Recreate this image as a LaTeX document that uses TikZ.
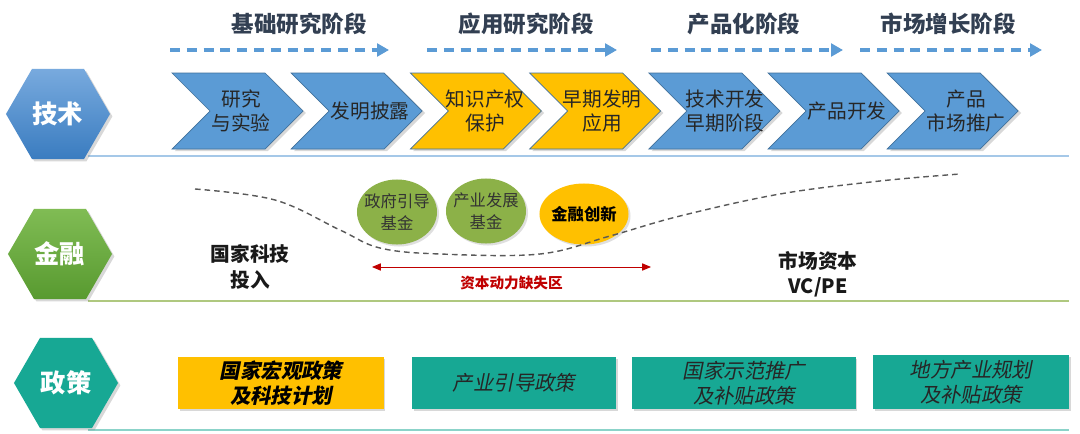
\documentclass[tikz,border=0pt]{standalone}
\usepackage{fontspec}
\setmainfont{Noto Sans CJK SC}
\newfontfamily\slantfont{Noto Sans CJK SC}[FakeSlant=0.2]
\usepackage{tikz}
\usetikzlibrary{shapes.geometric, arrows.meta, shadows, positioning}
\definecolor{techblue}{RGB}{91,155,213}
\definecolor{techedge}{RGB}{65,113,156}
\definecolor{hexbluetop}{RGB}{120,170,222}
\definecolor{hexbluebot}{RGB}{58,124,192}
\definecolor{keyyellow}{RGB}{255,192,0}
\definecolor{keyedge}{RGB}{190,142,0}
\definecolor{hexgreentop}{RGB}{128,188,84}
\definecolor{hexgreenbot}{RGB}{88,154,48}
\definecolor{fundgreen}{RGB}{140,177,72}
\definecolor{polteal}{RGB}{23,168,148}
\definecolor{headnavy}{RGB}{50,63,82}
\definecolor{gapred}{RGB}{192,0,0}
\tikzset{
  %% ---- row badges ----
  hexa/.style     = {regular polygon, regular polygon sides=6,
                     minimum size=2.6cm, inner sep=0pt,
                     font=\fontsize{18}{20}\selectfont\bfseries, text=white,
                     drop shadow={opacity=.3, shadow xshift=.06cm, shadow yshift=-.06cm}},
  %% ---- stage chevrons ----
  chevshape/.style = {draw=techedge, line width=.5pt, fill=#1,
                      drop shadow={opacity=.3, shadow xshift=.07cm, shadow yshift=-.05cm}},
  chevshape/.default = techblue,
  chevtext/.style = {align=center, font=\fontsize{14}{17}\selectfont, text=black!85},
  stagehead/.style= {font=\fontsize{16}{18}\selectfont\bfseries, text=headnavy},
  %% ---- funding ----
  fund/.style     = {ellipse, inner xsep=-6pt, inner ysep=-2pt, fill=#1,
                     minimum width=2cm, minimum height=1.625cm,
                     align=center, font=\fontsize{11.6}{15}\selectfont, text=black!80,
                     drop shadow={opacity=.25, shadow xshift=.05cm, shadow yshift=-.05cm}},
  fund/.default   = fundgreen,
  srclbl/.style   = {align=center, font=\fontsize{14}{18}\selectfont\bfseries, text=black!90},
  %% ---- policy ----
  polbox/.style   = {rectangle, inner sep=0pt, fill=#1, minimum height=1.3cm,
                     align=center, font=\slantfont\fontsize{14.5}{18}\selectfont, text=black!85,
                     drop shadow={opacity=.3, shadow xshift=.04cm, shadow yshift=-.06cm}},
  polbox/.default = polteal,
  %% ---- lines ----
  stagearrow/.style = {-{Triangle[length=.3cm, width=.32cm]}, draw=techblue,
                       line width=.1cm, dash pattern=on .25cm off .17cm},
  gaparrow/.style   = {{Triangle[length=.22cm, width=.18cm]}-{Triangle[length=.22cm, width=.18cm]},
                       draw=gapred, line width=.6pt},
  rowline/.style    = {line width=1pt, draw=#1},
}

\begin{document}
\begin{tikzpicture}[x=0.025cm, y=-0.025cm]
\path[fill=white, use as bounding box] (0,0) rectangle (1080,434);

% stage headers and their arrows
\node[stagehead] (hbasic)  at (299,24) {基础研究阶段};
\node[stagehead] (happly)  at (526,24) {应用研究阶段};
\node[stagehead] (hprod)   at (744,24) {产品化阶段};
\node[stagehead] (hmarket) at (948,24) {市场增长阶段};
\coordinate (basicL)  at (170,50);  \coordinate (basicR)  at (389,50);
\coordinate (applyL)  at (427,50);  \coordinate (applyR)  at (617,50);
\coordinate (prodL)   at (651,50);  \coordinate (prodR)   at (843,50);
\coordinate (marketL) at (860,50);  \coordinate (marketR) at (1042,50);
\draw[stagearrow] (basicL)  -- (basicR);
\draw[stagearrow] (applyL)  -- (applyR);
\draw[stagearrow] (prodL)   -- (prodR);
\draw[stagearrow] (marketL) -- (marketR);

% row lines
\draw[rowline=techblue!55]   (88,156) -- (1069,156);
\draw[rowline=fundgreen!70]  (88,301) -- (1069,301);
\draw[rowline=polteal!50]    (88,430) -- (1069,430);

% technology row
\node[hexa, top color=hexbluetop, bottom color=hexbluebot] (tech) at (58,114) {技术};
\draw[chevshape]           (172,73)   -- ++(93,0) -- ++(38,38) -- ++(-38,38) -- ++(-93,0) -- ++(38,-38) -- cycle;
\draw[chevshape]           (291.2,73) -- ++(93,0) -- ++(38,38) -- ++(-38,38) -- ++(-93,0) -- ++(38,-38) -- cycle;
\draw[chevshape=keyyellow] (410.4,73) -- ++(93,0) -- ++(38,38) -- ++(-38,38) -- ++(-93,0) -- ++(38,-38) -- cycle;
\draw[chevshape=keyyellow] (529.6,73) -- ++(93,0) -- ++(38,38) -- ++(-38,38) -- ++(-93,0) -- ++(38,-38) -- cycle;
\draw[chevshape]           (648.8,73) -- ++(93,0) -- ++(38,38) -- ++(-38,38) -- ++(-93,0) -- ++(38,-38) -- cycle;
\draw[chevshape]           (768,73)   -- ++(93,0) -- ++(38,38) -- ++(-38,38) -- ++(-93,0) -- ++(38,-38) -- cycle;
\draw[chevshape]           (887.2,73) -- ++(93,0) -- ++(38,38) -- ++(-38,38) -- ++(-93,0) -- ++(38,-38) -- cycle;
\node[chevtext] (research) at (241,111)   {研究\\与实验};
\node[chevtext] (invent)   at (370,111)   {发明披露};
\node[chevtext] (ipr)      at (485,111)   {知识产权\\保护};
\node[chevtext] (early)    at (602,111)   {早期发明\\应用};
\node[chevtext] (devel)    at (725,111)   {技术开发\\早期阶段};
\node[chevtext] (product)  at (847,111)   {产品开发};
\node[chevtext] (promo)    at (966,111)   {产品\\市场推广};

% finance row
\node[hexa, top color=hexgreentop, bottom color=hexgreenbot] (fin) at (60,254) {金融};
\node[srclbl] (statefund) at (250,267) {国家科技\\投入};
\node[fund]   (guide)     at (397,212) {政府引导\\基金};
\node[fund]   (industry)  at (486,211) {产业发展\\基金};
\node[fund=keyyellow, minimum width=2.225cm, minimum height=1.525cm,
      font=\fontsize{11.6}{15}\selectfont\bfseries, text=black] (innov) at (584,214) {金融创新};
\node[srclbl] (vcpe)      at (818,274) {市场资本\\VC/PE};
\coordinate (gapL) at (372,267);
\coordinate (gapR) at (651,267);
\draw[gaparrow] (gapL) -- node[below=3pt, font=\fontsize{10.4}{12}\selectfont\bfseries,
                                text=gapred] (gaplbl) {资本动力缺失区} (gapR);
\draw[black!65, line width=1pt, dash pattern=on .14cm off .1cm]
  plot[smooth, tension=.6] coordinates {(195,189) (275,200) (340,230) (380,248) (440,254)
                                        (540,254) (610,236) (680,216) (780,194) (880,181) (960,174)};

% policy row
\node[hexa, fill=polteal] (policy) at (66,383) {政策};
\node[polbox=keyyellow, minimum width=5.125cm,
      font=\slantfont\bfseries\fontsize{14.5}{18}\selectfont, text=black] (macro) at (281,383) {国家宏观政策\\及科技计划};
\node[polbox, minimum width=5.1cm]   (guidepol) at (514,383) {产业引导政策};
\node[polbox, minimum width=5.575cm] (demo)     at (744,383) {国家示范推广\\及补贴政策};
\node[polbox, minimum width=4.9cm, minimum height=1.35cm] (local) at (971,382) {地方产业规划\\及补贴政策};
\end{tikzpicture}
\end{document}
